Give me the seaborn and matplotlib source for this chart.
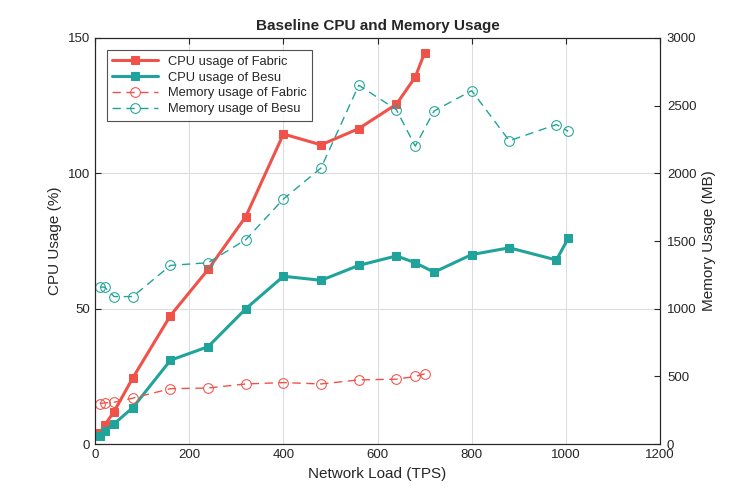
import pandas as pd
import matplotlib.pyplot as plt
import seaborn as sns

# Values
fabric_tps = [10, 20, 40, 80, 160, 240, 320, 400, 480, 560, 640, 680, 700]
fabric_cpu = [4, 7, 12, 24.5, 47.5, 64.5, 84, 114.5, 110.5, 116.5, 125.5, 135.5, 144.5]
fabric_mem = [300, 305, 310, 340, 410, 415, 445, 455, 445, 475, 480, 500, 520]

besu_tps = [10, 20, 40, 80, 160, 240, 320, 400, 480, 560, 640, 680, 720, 800, 880, 980, 1005]
besu_cpu = [3, 5, 7.5, 13.5, 31, 36, 50, 62, 60.5, 66, 69.5, 67, 63.5, 70, 72.5, 68, 76]
besu_mem = [1160, 1160, 1090, 1090, 1320, 1340, 1510, 1810, 2040, 2650, 2470, 2200, 2460,
            2610, 2240, 2360, 2310]

red = "#f0524a"
teal = "#1fa39a"

sns.set_style("white")
plt.rcParams['font.family'] = ['Liberation Sans', 'DejaVu Sans']

fig = plt.figure(figsize=(7.32, 4.98), dpi=100)
ax = fig.add_axes([0.13, 0.108, 0.7716, 0.816])
ax2 = ax.twinx()

fab = pd.DataFrame({"tps": fabric_tps, "cpu": fabric_cpu, "mem": fabric_mem})
bes = pd.DataFrame({"tps": besu_tps, "cpu": besu_cpu, "mem": besu_mem})

sns.lineplot(data=fab, x="tps", y="cpu", ax=ax, color=red, lw=2.2, marker="s", ms=6,
             mfc=red, mec=red, label="CPU usage of Fabric", legend=False)
sns.lineplot(data=bes, x="tps", y="cpu", ax=ax, color=teal, lw=2.2, marker="s", ms=6,
             mfc=teal, mec=teal, label="CPU usage of Besu", legend=False)
sns.lineplot(data=fab, x="tps", y="mem", ax=ax2, color=red, lw=1, marker="o", ms=7,
             mfc="none", mec=red, dashes=(6, 4), label="Memory usage of Fabric", legend=False)
sns.lineplot(data=bes, x="tps", y="mem", ax=ax2, color=teal, lw=1, marker="o", ms=7,
             mfc="none", mec=teal, dashes=(6, 4), label="Memory usage of Besu", legend=False)

ax.set_xlim(0, 1200)
ax.set_ylim(0, 150)
ax2.set_ylim(0, 3000)
ax.set_xticks(range(0, 1201, 200))
ax.set_yticks([0, 50, 100, 150])
ax2.set_yticks(range(0, 3001, 500))
ax.grid(True, color="#dddddd", lw=0.8)
ax.set_axisbelow(True)
for a in (ax, ax2):
    for s in a.spines.values():
        s.set_color("#262626")
        s.set_linewidth(0.8)
    a.tick_params(direction="in", length=4, labelsize=9.5, colors="#262626")
ax.tick_params(top=True)
ax2.tick_params(pad=5)

ax.set_xlabel("Network Load (TPS)", fontsize=11)
ax.set_ylabel("CPU Usage (%)", fontsize=11)
ax2.set_ylabel("Memory Usage (MB)", fontsize=11)
ax.set_title("Baseline CPU and Memory Usage", fontsize=11, fontweight="bold")

h1, l1 = ax.get_legend_handles_labels()
h2, l2 = ax2.get_legend_handles_labels()
leg = ax2.legend(h1 + h2, l1 + l2, loc="upper left", bbox_to_anchor=(0.01, 0.985),
                 fontsize=9.3, frameon=True, fancybox=False, edgecolor="#262626",
                 borderpad=0.4, labelspacing=0.3, handlelength=3.5)
leg.get_frame().set_linewidth(0.8)

fig.savefig("out.png", dpi=100)
